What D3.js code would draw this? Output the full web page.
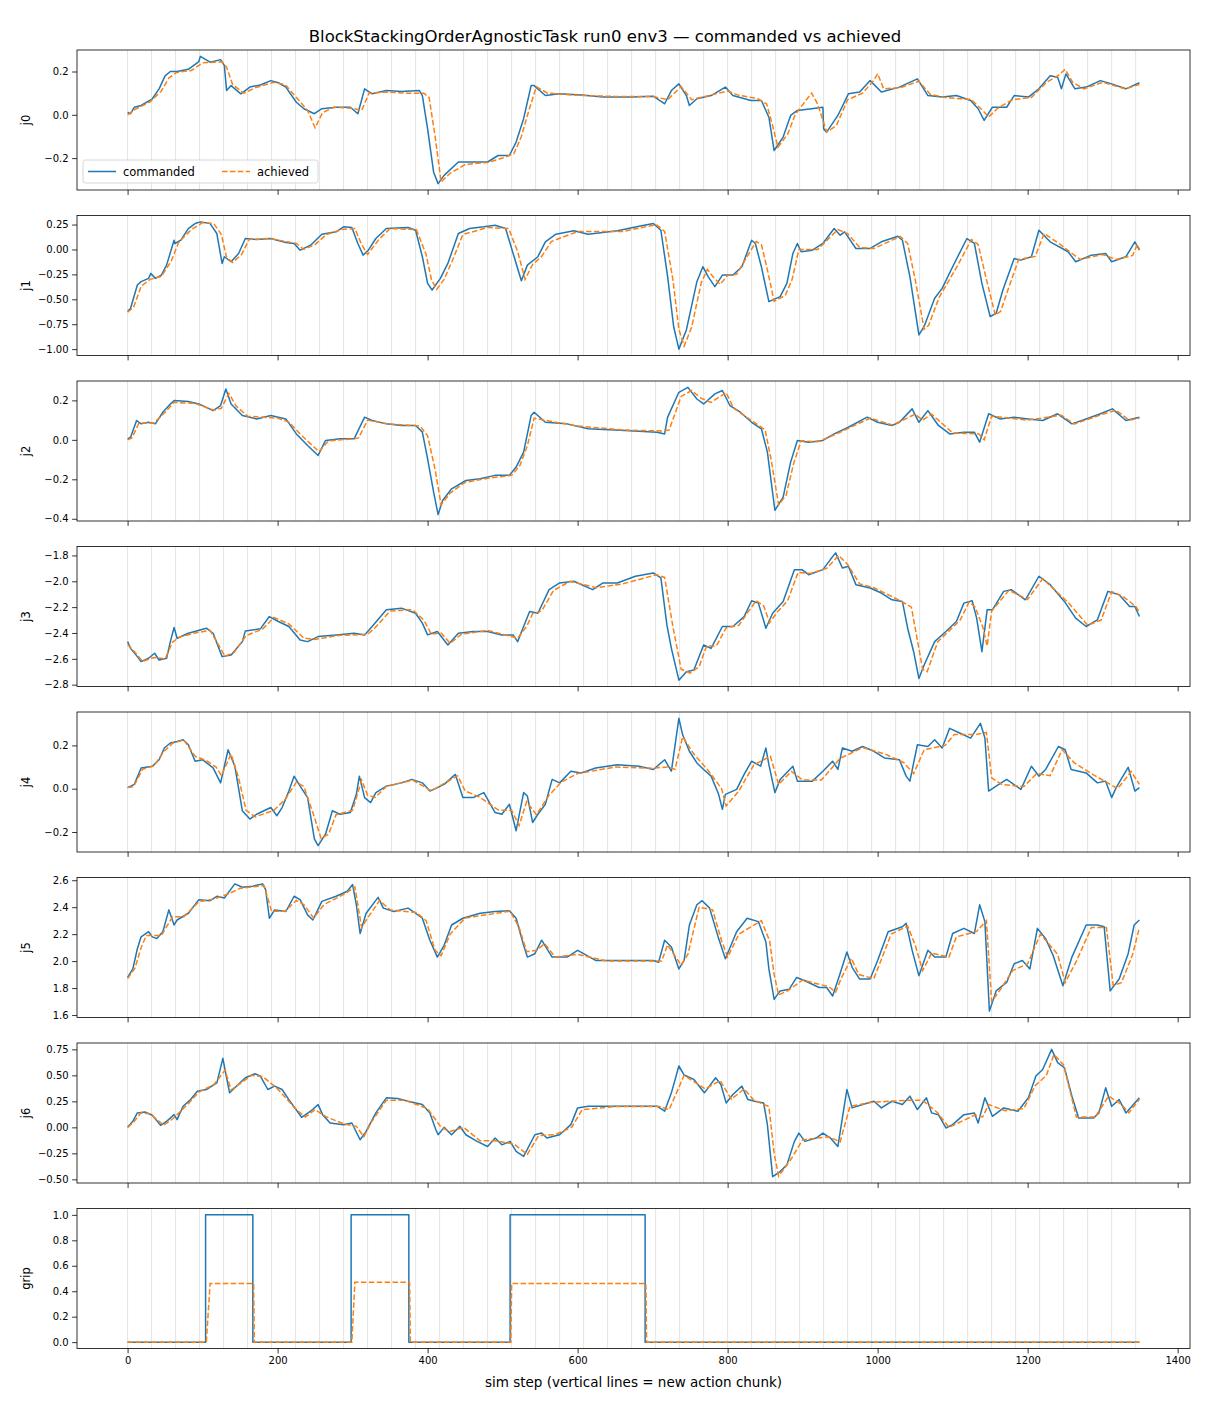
<!DOCTYPE html>
<html>
<head>
<meta charset="utf-8">
<script src="https://cdn.jsdelivr.net/npm/d3@7"></script>
<style>
  body { margin: 0; background: #fff; }
  svg { display: block; }
  text { font-family: "DejaVu Sans", sans-serif; fill: #000; }
</style>
</head>
<body>
<svg></svg>
<script>
// Figure
const width = 1210;
const height = 1408;

// ---- data: [sim step, value] ----
const lastStep = 1349;
const chunkSize = 32;

const j0Cmd = [[0,0.012],[4,0.005],[9,0.035],[18,0.043],[33,0.074],[42,0.12],[50,0.18],[57,0.2],[66,0.2],[81,0.21],[95,0.246],[97,0.27],[110,0.243],[124,0.255],[129,0.228],[132,0.112],[138,0.135],[151,0.097],[163,0.128],[177,0.138],[191,0.158],[201,0.148],[211,0.128],[225,0.058],[235,0.028],[249,0.005],[259,0.028],[278,0.035],[297,0.035],[307,0.005],[316,0.12],[326,0.097],[345,0.112],[365,0.108],[389,0.112],[393,0.089],[400,-0.065],[408,-0.265],[414,-0.318],[422,-0.28],[441,-0.218],[461,-0.218],[480,-0.218],[494,-0.188],[509,-0.188],[518,-0.126],[528,-0.018],[538,0.135],[542,0.135],[557,0.089],[576,0.097],[605,0.092],[634,0.082],[672,0.082],[701,0.086],[716,0.051],[725,0.112],[735,0.143],[745,0.089],[749,0.043],[759,0.074],[778,0.089],[797,0.128],[807,0.089],[831,0.066],[845,0.066],[855,-0.011],[862,-0.165],[874,-0.103],[884,-0.003],[893,0.02],[912,0.028],[927,0.035],[928,-0.065],[932,-0.08],[947,-0.003],[961,0.097],[976,0.105],[990,0.158],[1005,0.105],[1029,0.128],[1053,0.166],[1067,0.089],[1086,0.082],[1105,0.089],[1124,0.066],[1134,0.028],[1142,-0.026],[1153,0.035],[1172,0.035],[1182,0.089],[1201,0.082],[1215,0.12],[1230,0.18],[1240,0.174],[1245,0.12],[1251,0.189],[1263,0.12],[1278,0.128],[1297,0.158],[1312,0.143],[1331,0.12],[1349,0.148]];
const j0Ach = [[0,0.0],[10,0.025],[30,0.06],[45,0.11],[55,0.17],[65,0.195],[85,0.205],[100,0.24],[125,0.245],[132,0.22],[140,0.14],[155,0.1],[170,0.125],[195,0.15],[210,0.14],[225,0.08],[240,0.02],[250,-0.06],[260,0.01],[275,0.035],[300,0.03],[312,0.02],[322,0.1],[345,0.105],[370,0.1],[395,0.1],[402,0.08],[410,-0.1],[418,-0.31],[430,-0.27],[450,-0.23],[480,-0.22],[500,-0.2],[515,-0.18],[525,-0.1],[535,0.02],[545,0.13],[560,0.1],[600,0.09],[650,0.085],[700,0.085],[720,0.07],[738,0.13],[752,0.07],[770,0.085],[800,0.11],[815,0.09],[840,0.075],[852,0.05],[860,-0.05],[867,-0.15],[880,-0.09],[890,0.0],[905,0.07],[912,0.1],[920,0.05],[932,-0.08],[945,-0.05],[960,0.07],[980,0.1],[995,0.16],[1000,0.19],[1008,0.12],[1030,0.125],[1055,0.155],[1070,0.095],[1090,0.08],[1125,0.07],[1140,0.02],[1148,-0.01],[1160,0.03],[1180,0.07],[1205,0.08],[1225,0.15],[1240,0.18],[1250,0.21],[1260,0.15],[1275,0.12],[1300,0.15],[1330,0.12],[1349,0.14]];

const j1Cmd = [[0,-0.623],[4,-0.59],[13,-0.357],[18,-0.323],[28,-0.29],[31,-0.24],[37,-0.29],[45,-0.257],[52,-0.157],[62,0.093],[63,0.06],[71,0.093],[81,0.21],[90,0.26],[97,0.277],[110,0.26],[119,0.16],[126,-0.14],[129,-0.073],[138,-0.123],[148,-0.04],[157,0.11],[172,0.1],[191,0.11],[211,0.07],[222,0.06],[230,-0.007],[244,0.043],[259,0.153],[278,0.177],[288,0.227],[299,0.22],[307,0.06],[314,-0.057],[321,-0.007],[331,0.11],[345,0.21],[374,0.22],[384,0.193],[393,-0.073],[400,-0.34],[406,-0.407],[417,-0.29],[427,-0.14],[441,0.16],[456,0.21],[475,0.227],[490,0.243],[504,0.21],[514,-0.04],[525,-0.313],[533,-0.157],[547,-0.073],[557,0.077],[571,0.153],[595,0.187],[614,0.153],[653,0.187],[682,0.233],[701,0.26],[711,0.193],[720,-0.273],[728,-0.773],[735,-1.0],[745,-0.807],[759,-0.323],[767,-0.173],[774,-0.273],[783,-0.373],[793,-0.257],[807,-0.257],[819,-0.173],[832,0.093],[837,0.06],[845,-0.173],[855,-0.523],[870,-0.473],[879,-0.34],[887,-0.04],[893,0.06],[898,-0.023],[913,-0.007],[927,0.06],[942,0.21],[950,0.143],[956,0.177],[971,0.01],[990,0.01],[1005,0.077],[1027,0.133],[1033,0.093],[1043,-0.273],[1055,-0.857],[1062,-0.773],[1076,-0.49],[1086,-0.39],[1100,-0.173],[1119,0.11],[1129,0.06],[1139,-0.34],[1150,-0.673],[1158,-0.64],[1167,-0.407],[1182,-0.09],[1191,-0.107],[1205,-0.073],[1215,0.193],[1230,0.077],[1254,-0.023],[1264,-0.123],[1285,-0.057],[1304,-0.04],[1312,-0.123],[1331,-0.073],[1343,0.077],[1349,-0.007]];
const j1Ach = [[0,-0.63],[8,-0.58],[18,-0.37],[30,-0.3],[45,-0.27],[58,-0.12],[68,0.07],[85,0.2],[100,0.27],[115,0.26],[125,0.15],[132,-0.08],[140,-0.13],[152,-0.05],[162,0.1],[190,0.11],[225,0.06],[235,0.0],[250,0.05],[265,0.15],[285,0.2],[303,0.21],[312,0.05],[320,-0.05],[335,0.1],[350,0.21],[385,0.2],[398,-0.05],[405,-0.3],[412,-0.4],[422,-0.3],[432,-0.13],[447,0.15],[480,0.22],[508,0.21],[520,-0.02],[530,-0.3],[540,-0.15],[552,-0.07],[565,0.08],[600,0.18],[660,0.18],[705,0.25],[716,0.18],[727,-0.3],[735,-0.8],[742,-0.97],[752,-0.78],[765,-0.33],[773,-0.2],[780,-0.27],[790,-0.35],[800,-0.26],[812,-0.25],[838,0.08],[845,0.05],[852,-0.17],[862,-0.52],[877,-0.46],[886,-0.3],[895,0.0],[905,0.0],[920,0.0],[947,0.2],[960,0.16],[976,0.02],[995,0.01],[1030,0.13],[1040,0.06],[1050,-0.3],[1062,-0.8],[1068,-0.76],[1082,-0.48],[1106,-0.17],[1125,0.1],[1134,0.05],[1145,-0.3],[1157,-0.66],[1164,-0.62],[1174,-0.4],[1188,-0.1],[1210,-0.07],[1222,0.16],[1240,0.07],[1270,-0.1],[1300,-0.05],[1318,-0.1],[1340,-0.06],[1346,0.05],[1349,0.0]];

const j2Cmd = [[0,0.005],[4,0.013],[12,0.098],[18,0.081],[28,0.089],[37,0.081],[47,0.14],[57,0.182],[62,0.199],[81,0.194],[95,0.182],[114,0.148],[124,0.174],[131,0.258],[138,0.182],[153,0.123],[172,0.106],[191,0.123],[211,0.106],[225,0.03],[240,-0.029],[254,-0.079],[264,-0.003],[283,0.005],[302,0.005],[316,0.115],[326,0.098],[345,0.081],[365,0.073],[384,0.073],[393,0.039],[400,-0.096],[408,-0.265],[414,-0.379],[420,-0.307],[432,-0.248],[451,-0.206],[470,-0.197],[490,-0.18],[509,-0.18],[518,-0.138],[528,-0.062],[538,0.123],[542,0.14],[557,0.089],[586,0.081],[614,0.056],[663,0.047],[706,0.039],[716,0.03],[720,0.115],[735,0.241],[747,0.266],[759,0.207],[768,0.182],[783,0.233],[793,0.25],[803,0.174],[817,0.14],[832,0.089],[845,0.056],[853,-0.062],[863,-0.357],[874,-0.29],[884,-0.113],[893,-0.003],[908,-0.012],[927,-0.003],[942,0.03],[961,0.064],[986,0.115],[1000,0.089],[1019,0.073],[1029,0.089],[1046,0.157],[1055,0.089],[1067,0.148],[1081,0.073],[1096,0.03],[1115,0.039],[1129,0.039],[1136,-0.012],[1148,0.132],[1163,0.106],[1182,0.115],[1201,0.106],[1220,0.098],[1240,0.132],[1259,0.081],[1278,0.106],[1297,0.132],[1313,0.157],[1331,0.098],[1349,0.115]];
const j2Ach = [[0,0.0],[6,0.01],[15,0.085],[35,0.085],[50,0.14],[62,0.19],[90,0.185],[115,0.15],[125,0.16],[135,0.235],[145,0.17],[160,0.12],[200,0.11],[215,0.09],[230,0.03],[255,-0.06],[268,-0.005],[300,0.005],[308,0.01],[320,0.1],[350,0.08],[390,0.07],[400,0.02],[410,-0.15],[418,-0.33],[430,-0.27],[450,-0.215],[480,-0.195],[512,-0.18],[523,-0.13],[533,-0.03],[542,0.11],[555,0.1],[600,0.07],[660,0.05],[712,0.045],[722,0.05],[738,0.22],[752,0.25],[765,0.21],[778,0.19],[798,0.24],[808,0.16],[835,0.09],[850,0.05],[858,-0.1],[868,-0.33],[878,-0.28],[888,-0.12],[898,-0.005],[920,-0.01],[945,0.03],[990,0.11],[1020,0.075],[1050,0.13],[1060,0.1],[1072,0.13],[1100,0.035],[1135,0.03],[1142,0.0],[1152,0.12],[1200,0.1],[1245,0.125],[1262,0.08],[1300,0.13],[1318,0.15],[1335,0.1],[1349,0.11]];

const j3Cmd = [[0,-2.467],[4,-2.519],[13,-2.583],[18,-2.622],[28,-2.596],[36,-2.557],[42,-2.609],[52,-2.596],[57,-2.467],[62,-2.358],[66,-2.441],[81,-2.402],[105,-2.363],[114,-2.402],[126,-2.583],[138,-2.57],[153,-2.467],[157,-2.384],[177,-2.368],[189,-2.273],[201,-2.311],[215,-2.35],[230,-2.454],[240,-2.467],[254,-2.428],[278,-2.415],[302,-2.402],[316,-2.415],[326,-2.35],[345,-2.221],[365,-2.208],[384,-2.247],[393,-2.324],[400,-2.415],[413,-2.389],[427,-2.493],[441,-2.402],[461,-2.389],[480,-2.389],[499,-2.415],[514,-2.415],[520,-2.467],[528,-2.35],[536,-2.234],[547,-2.247],[562,-2.065],[576,-2.013],[595,-2.0],[620,-2.065],[634,-2.013],[653,-2.013],[677,-1.961],[701,-1.935],[711,-1.974],[719,-2.337],[725,-2.519],[735,-2.765],[745,-2.7],[755,-2.687],[768,-2.493],[778,-2.519],[793,-2.35],[807,-2.35],[822,-2.273],[832,-2.151],[841,-2.169],[851,-2.363],[860,-2.247],[874,-2.156],[889,-1.91],[899,-1.91],[908,-1.949],[927,-1.91],[937,-1.832],[944,-1.78],[953,-1.897],[961,-1.884],[971,-2.026],[990,-2.052],[1005,-2.091],[1019,-2.143],[1033,-2.156],[1040,-2.363],[1048,-2.545],[1055,-2.752],[1062,-2.648],[1076,-2.467],[1091,-2.389],[1105,-2.311],[1115,-2.169],[1126,-2.151],[1132,-2.285],[1139,-2.545],[1146,-2.221],[1153,-2.221],[1168,-2.078],[1178,-2.065],[1197,-2.143],[1215,-1.961],[1230,-2.026],[1249,-2.156],[1264,-2.285],[1278,-2.35],[1293,-2.298],[1307,-2.078],[1322,-2.104],[1336,-2.195],[1343,-2.195],[1349,-2.273]];
const j3Ach = [[0,-2.49],[10,-2.55],[20,-2.62],[35,-2.59],[50,-2.6],[60,-2.47],[70,-2.43],[90,-2.4],[110,-2.38],[120,-2.48],[130,-2.58],[142,-2.55],[158,-2.42],[180,-2.37],[195,-2.28],[215,-2.33],[235,-2.44],[250,-2.45],[280,-2.42],[320,-2.41],[330,-2.36],[350,-2.23],[380,-2.22],[395,-2.3],[405,-2.41],[418,-2.4],[430,-2.48],[445,-2.41],[480,-2.38],[520,-2.44],[532,-2.35],[540,-2.25],[552,-2.23],[568,-2.07],[590,-2.0],[625,-2.05],[660,-2.02],[705,-1.95],[716,-1.97],[727,-2.35],[738,-2.68],[750,-2.71],[762,-2.66],[772,-2.5],[785,-2.5],[798,-2.36],[815,-2.34],[838,-2.15],[848,-2.19],[856,-2.32],[866,-2.24],[880,-2.15],[894,-1.93],[910,-1.94],[932,-1.9],[948,-1.8],[960,-1.87],[976,-2.02],[995,-2.05],[1030,-2.15],[1045,-2.2],[1060,-2.68],[1066,-2.7],[1080,-2.47],[1110,-2.3],[1122,-2.16],[1130,-2.2],[1140,-2.35],[1146,-2.5],[1152,-2.23],[1175,-2.07],[1200,-2.14],[1220,-1.98],[1255,-2.17],[1280,-2.34],[1298,-2.3],[1312,-2.08],[1328,-2.12],[1345,-2.2],[1349,-2.24]];

const j4Cmd = [[0,0.005],[9,0.02],[18,0.096],[33,0.104],[42,0.134],[49,0.188],[57,0.211],[66,0.218],[74,0.226],[81,0.203],[90,0.127],[100,0.134],[114,0.096],[124,0.027],[134,0.18],[143,0.104],[153,-0.102],[163,-0.14],[172,-0.118],[191,-0.087],[199,-0.125],[206,-0.087],[215,-0.011],[222,0.058],[230,0.012],[240,-0.041],[249,-0.232],[254,-0.263],[264,-0.209],[273,-0.102],[283,-0.118],[297,-0.11],[305,-0.026],[309,0.058],[316,-0.041],[324,-0.064],[331,-0.018],[345,0.012],[365,0.027],[379,0.043],[393,0.027],[403,-0.011],[413,0.005],[422,0.02],[437,0.066],[447,-0.041],[461,-0.041],[475,-0.018],[490,-0.11],[499,-0.118],[509,-0.072],[518,-0.194],[528,-0.018],[533,-0.034],[540,-0.156],[547,-0.118],[557,-0.072],[566,0.043],[576,0.027],[591,0.081],[605,0.073],[624,0.096],[653,0.111],[682,0.104],[701,0.089],[716,0.134],[725,0.081],[735,0.325],[740,0.249],[749,0.173],[759,0.119],[768,0.089],[778,0.058],[788,-0.026],[793,-0.095],[797,-0.026],[812,-0.003],[822,0.066],[832,0.127],[844,0.104],[851,0.188],[855,0.111],[863,-0.018],[870,0.043],[887,0.104],[893,0.035],[913,0.035],[927,0.081],[940,0.127],[947,0.089],[953,0.188],[966,0.173],[980,0.195],[995,0.173],[1009,0.142],[1029,0.134],[1038,0.058],[1043,0.035],[1053,0.203],[1067,0.195],[1076,0.226],[1086,0.188],[1096,0.279],[1110,0.256],[1124,0.234],[1137,0.302],[1143,0.234],[1148,-0.011],[1158,0.012],[1172,0.043],[1191,-0.003],[1205,0.104],[1215,0.058],[1224,0.089],[1241,0.195],[1250,0.18],[1258,0.089],[1278,0.073],[1293,0.027],[1304,0.035],[1312,-0.041],[1318,0.005],[1334,0.099],[1343,-0.011],[1349,0.005]];
const j4Ach = [[0,0.005],[8,0.01],[20,0.09],[35,0.105],[48,0.17],[60,0.21],[75,0.225],[90,0.15],[105,0.13],[118,0.1],[125,0.06],[138,0.16],[148,0.05],[158,-0.1],[170,-0.13],[195,-0.1],[210,-0.05],[225,0.03],[235,0.01],[248,-0.12],[258,-0.23],[268,-0.21],[278,-0.12],[300,-0.1],[312,0.04],[320,-0.03],[330,-0.04],[345,0.01],[380,0.04],[405,-0.01],[425,0.03],[440,0.06],[450,-0.01],[470,-0.04],[495,-0.1],[512,-0.1],[522,-0.17],[532,-0.06],[545,-0.12],[562,-0.03],[578,0.03],[600,0.07],[650,0.1],[700,0.095],[720,0.1],[730,0.09],[740,0.24],[755,0.16],[775,0.08],[792,0.0],[798,-0.08],[815,-0.01],[835,0.11],[857,0.15],[868,0.02],[885,0.08],[900,0.04],[925,0.04],[950,0.14],[980,0.19],[1010,0.16],[1035,0.12],[1048,0.07],[1062,0.18],[1090,0.2],[1102,0.25],[1130,0.25],[1145,0.26],[1152,0.05],[1165,0.02],[1195,0.01],[1212,0.07],[1230,0.06],[1246,0.18],[1262,0.12],[1285,0.07],[1305,0.03],[1320,0.0],[1338,0.08],[1349,0.02]];

const j5Cmd = [[0,1.879],[7,1.942],[13,2.092],[18,2.18],[28,2.218],[33,2.18],[39,2.167],[47,2.218],[55,2.38],[62,2.268],[66,2.305],[81,2.355],[95,2.456],[110,2.448],[119,2.481],[129,2.468],[143,2.573],[153,2.548],[167,2.556],[180,2.573],[184,2.531],[189,2.318],[196,2.38],[211,2.368],[222,2.481],[230,2.456],[240,2.343],[247,2.305],[259,2.443],[278,2.481],[293,2.518],[300,2.568],[305,2.418],[310,2.205],[318,2.355],[334,2.473],[341,2.393],[355,2.368],[374,2.393],[384,2.355],[393,2.318],[403,2.155],[413,2.03],[422,2.117],[432,2.268],[447,2.318],[470,2.355],[490,2.368],[509,2.373],[518,2.318],[528,2.117],[533,2.03],[543,2.055],[552,2.155],[559,2.092],[566,2.03],[586,2.03],[600,2.08],[624,2.005],[653,2.005],[682,2.005],[701,2.005],[708,1.992],[716,2.155],[725,2.105],[735,1.942],[742,2.005],[749,2.268],[759,2.418],[766,2.448],[776,2.393],[788,2.167],[797,2.017],[812,2.218],[826,2.318],[841,2.293],[851,2.142],[855,1.942],[862,1.716],[870,1.779],[882,1.791],[892,1.879],[903,1.854],[922,1.804],[932,1.804],[940,1.741],[949,1.892],[959,2.067],[966,1.954],[976,1.867],[990,1.867],[1000,2.005],[1014,2.218],[1033,2.255],[1038,2.28],[1046,2.08],[1055,1.892],[1067,2.08],[1076,2.03],[1091,2.03],[1100,2.205],[1115,2.243],[1129,2.205],[1136,2.418],[1143,2.293],[1149,1.629],[1158,1.779],[1172,1.842],[1182,1.98],[1193,2.005],[1203,1.942],[1213,2.243],[1224,2.167],[1234,2.042],[1247,1.817],[1259,2.03],[1278,2.268],[1293,2.268],[1302,2.255],[1310,1.779],[1322,1.867],[1334,2.055],[1342,2.268],[1349,2.305]];
const j5Ach = [[0,1.87],[10,1.95],[18,2.1],[25,2.19],[45,2.19],[60,2.33],[75,2.33],[95,2.44],[115,2.46],[135,2.5],[150,2.54],[182,2.56],[192,2.37],[210,2.37],[225,2.45],[235,2.42],[248,2.32],[262,2.42],[290,2.5],[303,2.55],[312,2.25],[320,2.32],[336,2.45],[350,2.38],[385,2.36],[398,2.3],[410,2.08],[418,2.04],[430,2.2],[450,2.32],[510,2.37],[522,2.25],[532,2.07],[545,2.08],[556,2.13],[570,2.03],[600,2.05],[640,2.0],[700,2.0],[712,2.0],[720,2.12],[738,1.97],[747,2.05],[762,2.4],[780,2.38],[792,2.15],[800,2.03],[815,2.2],[845,2.3],[856,2.15],[862,1.9],[868,1.75],[880,1.78],[900,1.86],[935,1.81],[944,1.77],[952,1.88],[965,2.02],[975,1.9],[995,1.87],[1018,2.2],[1040,2.26],[1050,2.12],[1060,1.93],[1072,2.06],[1095,2.03],[1105,2.18],[1132,2.22],[1145,2.3],[1152,1.7],[1165,1.8],[1180,1.93],[1200,1.98],[1217,2.2],[1240,2.05],[1250,1.84],[1265,2.0],[1285,2.25],[1305,2.25],[1314,1.82],[1325,1.84],[1340,2.05],[1349,2.25]];

const j6Cmd = [[0,0.0],[7,0.058],[13,0.139],[23,0.148],[33,0.116],[44,0.019],[52,0.058],[62,0.122],[66,0.074],[74,0.203],[84,0.267],[93,0.348],[105,0.364],[119,0.428],[127,0.664],[132,0.477],[136,0.332],[145,0.396],[157,0.477],[170,0.515],[177,0.493],[187,0.364],[196,0.396],[206,0.364],[215,0.267],[232,0.097],[244,0.155],[254,0.219],[260,0.122],[270,0.042],[288,0.026],[299,0.042],[310,-0.119],[318,-0.039],[331,0.139],[345,0.284],[360,0.277],[374,0.251],[393,0.219],[403,0.139],[411,-0.023],[414,-0.071],[422,0.0],[432,-0.071],[443,0.01],[451,-0.071],[466,-0.135],[480,-0.184],[490,-0.103],[499,-0.168],[510,-0.135],[518,-0.232],[528,-0.28],[543,-0.071],[552,-0.055],[559,-0.103],[576,-0.071],[591,0.026],[600,0.187],[614,0.203],[653,0.203],[692,0.203],[706,0.203],[716,0.155],[725,0.332],[735,0.59],[742,0.503],[755,0.461],[769,0.332],[784,0.477],[791,0.412],[798,0.235],[807,0.316],[819,0.396],[827,0.267],[836,0.251],[848,0.235],[853,0.026],[860,-0.474],[870,-0.425],[879,-0.361],[889,-0.135],[895,-0.055],[903,-0.135],[918,-0.103],[927,-0.055],[937,-0.103],[947,-0.184],[953,0.09],[959,0.364],[966,0.187],[980,0.219],[995,0.251],[1005,0.187],[1019,0.251],[1033,0.219],[1043,0.3],[1053,0.171],[1065,0.284],[1072,0.139],[1081,0.122],[1091,-0.006],[1100,0.026],[1115,0.122],[1129,0.139],[1134,0.042],[1143,0.284],[1153,0.106],[1168,0.187],[1187,0.155],[1201,0.284],[1211,0.493],[1220,0.557],[1232,0.75],[1240,0.622],[1249,0.573],[1259,0.3],[1268,0.09],[1288,0.09],[1295,0.139],[1304,0.38],[1312,0.203],[1322,0.267],[1331,0.139],[1349,0.284]];
const j6Ach = [[0,0.0],[8,0.05],[18,0.14],[30,0.13],[48,0.02],[60,0.08],[80,0.22],[95,0.34],[115,0.41],[130,0.55],[138,0.36],[150,0.42],[165,0.5],[180,0.49],[200,0.37],[225,0.17],[237,0.1],[250,0.17],[265,0.1],[290,0.03],[305,0.01],[315,-0.09],[325,0.05],[345,0.26],[370,0.26],[400,0.18],[418,0.0],[430,-0.04],[448,0.0],[470,-0.13],[490,-0.13],[515,-0.16],[533,-0.26],[548,-0.08],[570,-0.07],[592,0.0],[606,0.17],[650,0.2],[710,0.2],[722,0.17],[742,0.5],[770,0.37],[790,0.45],[805,0.27],[822,0.37],[835,0.26],[855,0.2],[862,-0.25],[868,-0.47],[885,-0.3],[900,-0.12],[935,-0.09],[950,-0.14],[963,0.2],[990,0.24],[1040,0.26],[1060,0.26],[1080,0.14],[1095,0.0],[1130,0.12],[1140,0.1],[1148,0.22],[1170,0.16],[1195,0.18],[1210,0.4],[1225,0.5],[1235,0.7],[1248,0.6],[1265,0.1],[1290,0.1],[1308,0.3],[1325,0.22],[1335,0.14],[1349,0.27]];

const gripCmd = [[0,0],[104,0],[104,1],[167,1],[167,0],[298,0],[298,1],[375,1],[375,0],[510,0],[510,1],[690,1],[690,0],[1349,0]];
const gripAch = [[0,0],[105,0],[110,0.46],[168,0.46],[169,0],[299,0],[303,0.47],[376,0.47],[377,0],[511,0],[512,0.46],[691,0.46],[692,0],[1349,0]];

const panelNames = ["j0", "j1", "j2", "j3", "j4", "j5", "j6", "grip"];
const commanded = [j0Cmd, j1Cmd, j2Cmd, j3Cmd, j4Cmd, j5Cmd, j6Cmd, gripCmd];
const achieved = [j0Ach, j1Ach, j2Ach, j3Ach, j4Ach, j5Ach, j6Ach, gripAch];
const yTicks = [
  [-0.2, 0, 0.2],
  [-1, -0.75, -0.5, -0.25, 0, 0.25],
  [-0.4, -0.2, 0, 0.2],
  [-2.8, -2.6, -2.4, -2.2, -2.0, -1.8],
  [-0.2, 0, 0.2],
  [1.6, 1.8, 2.0, 2.2, 2.4, 2.6],
  [-0.5, -0.25, 0, 0.25, 0.5, 0.75],
  [0, 0.2, 0.4, 0.6, 0.8, 1.0]
];
const yDigits = [1, 2, 1, 1, 1, 1, 2, 1];
const xTicks = [0, 200, 400, 600, 800, 1000, 1200, 1400];
const seriesNames = ["commanded", "achieved"];

const title = "BlockStackingOrderAgnosticTask run0 env3 \u2014 commanded vs achieved";
const xLabel = "sim step (vertical lines = new action chunk)";

// ---- layout ----
const left = 77, right = 1190;
const top0 = 50, panelH = 140, panelStep = 165.5;
const blue = "#1f77b4", orange = "#ff7f0e";

const svg = d3.select("svg");
svg.attr("width", width);
svg.attr("height", height);

const x = d3.scaleLinear()
  .domain([-0.05 * lastStep, 1.05 * lastStep])
  .range([left, right]);

const chunkStarts = d3.range(0, lastStep, chunkSize);
const minus = s => s.replace("-", "\u2212");

// suptitle is centred on the figure, not the axes
svg.append("text")
  .attr("x", width / 2)
  .attr("y", 42)
  .attr("text-anchor", "middle")
  .attr("font-size", 16.5)
  .text(title);

panelNames.forEach((name, i) => {
  const top = top0 + i * panelStep;
  const g = svg.append("g");

  const all = commanded[i].concat(achieved[i]);
  const [lo, hi] = d3.extent(all, d => d[1]);
  const pad = (hi - lo) * 0.05;
  const y = d3.scaleLinear().domain([lo - pad, hi + pad]).range([top + panelH, top]);

  // chunk boundaries
  g.append("g")
    .selectAll("line")
    .data(chunkStarts)
    .join("line")
    .attr("x1", d => x(d)).attr("x2", d => x(d))
    .attr("y1", top).attr("y2", top + panelH)
    .attr("stroke", "#000")
    .attr("stroke-opacity", 0.14)
    .attr("stroke-width", 0.8);

  const line = d3.line().x(d => x(d[0])).y(d => y(d[1]));

  g.append("path")
    .datum(commanded[i])
    .attr("d", line)
    .attr("fill", "none")
    .attr("stroke", blue)
    .attr("stroke-width", 1.5)
    .attr("stroke-linejoin", "round");

  g.append("path")
    .datum(achieved[i])
    .attr("d", line)
    .attr("fill", "none")
    .attr("stroke", orange)
    .attr("stroke-width", 1.5)
    .attr("stroke-dasharray", "5.5,2.4");

  // axes
  const yAxis = d3.axisLeft(y)
    .tickValues(yTicks[i])
    .tickSize(4.9)
    .tickPadding(3.5)
    .tickFormat(d => minus(d.toFixed(yDigits[i])));
  const ya = g.append("g").attr("transform", `translate(${left},0)`).call(yAxis);

  const xAxis = d3.axisBottom(x)
    .tickValues(xTicks)
    .tickSize(4.9)
    .tickPadding(3.5)
    .tickFormat(i === panelNames.length - 1 ? d3.format("d") : "");
  const xa = g.append("g").attr("transform", `translate(0,${top + panelH})`).call(xAxis);

  [ya, xa].forEach(a => {
    a.select(".domain").remove();
    a.selectAll(".tick line").attr("stroke", "#000").attr("stroke-width", 0.8);
    a.selectAll(".tick text")
      .attr("font-size", 10)
      .attr("font-family", "DejaVu Sans, sans-serif")
      .attr("fill", "#000");
  });

  g.append("rect")
    .attr("x", left).attr("y", top)
    .attr("width", right - left).attr("height", panelH)
    .attr("fill", "none")
    .attr("stroke", "#000")
    .attr("stroke-width", 0.8);

  g.append("text")
    .attr("transform", `translate(30,${top + panelH / 2}) rotate(-90)`)
    .attr("text-anchor", "middle")
    .attr("font-size", 11.5)
    .text(name);

  // legend in first panel
  if (i === 0) {
    const lg = g.append("g").attr("transform", `translate(83,${top + 110})`);
    lg.append("rect")
      .attr("width", 235).attr("height", 23)
      .attr("rx", 2.5)
      .attr("fill", "#fff").attr("fill-opacity", 0.8)
      .attr("stroke", "#ccc").attr("stroke-width", 0.8);
    const cols = [0, 134];
    seriesNames.forEach((s, k) => {
      const cx = 5 + cols[k];
      lg.append("line")
        .attr("x1", cx).attr("x2", cx + 28)
        .attr("y1", 11.5).attr("y2", 11.5)
        .attr("stroke", k === 0 ? blue : orange)
        .attr("stroke-width", 1.5)
        .attr("stroke-dasharray", k === 0 ? null : "5.5,2.4");
      lg.append("text")
        .attr("x", cx + 35)
        .attr("y", 15.5)
        .attr("font-size", 11.5)
        .text(s);
    });
  }
});

svg.append("text")
  .attr("x", (left + right) / 2)
  .attr("y", 1387)
  .attr("text-anchor", "middle")
  .attr("font-size", 13.5)
  .text(xLabel);
</script>
</body>
</html>
